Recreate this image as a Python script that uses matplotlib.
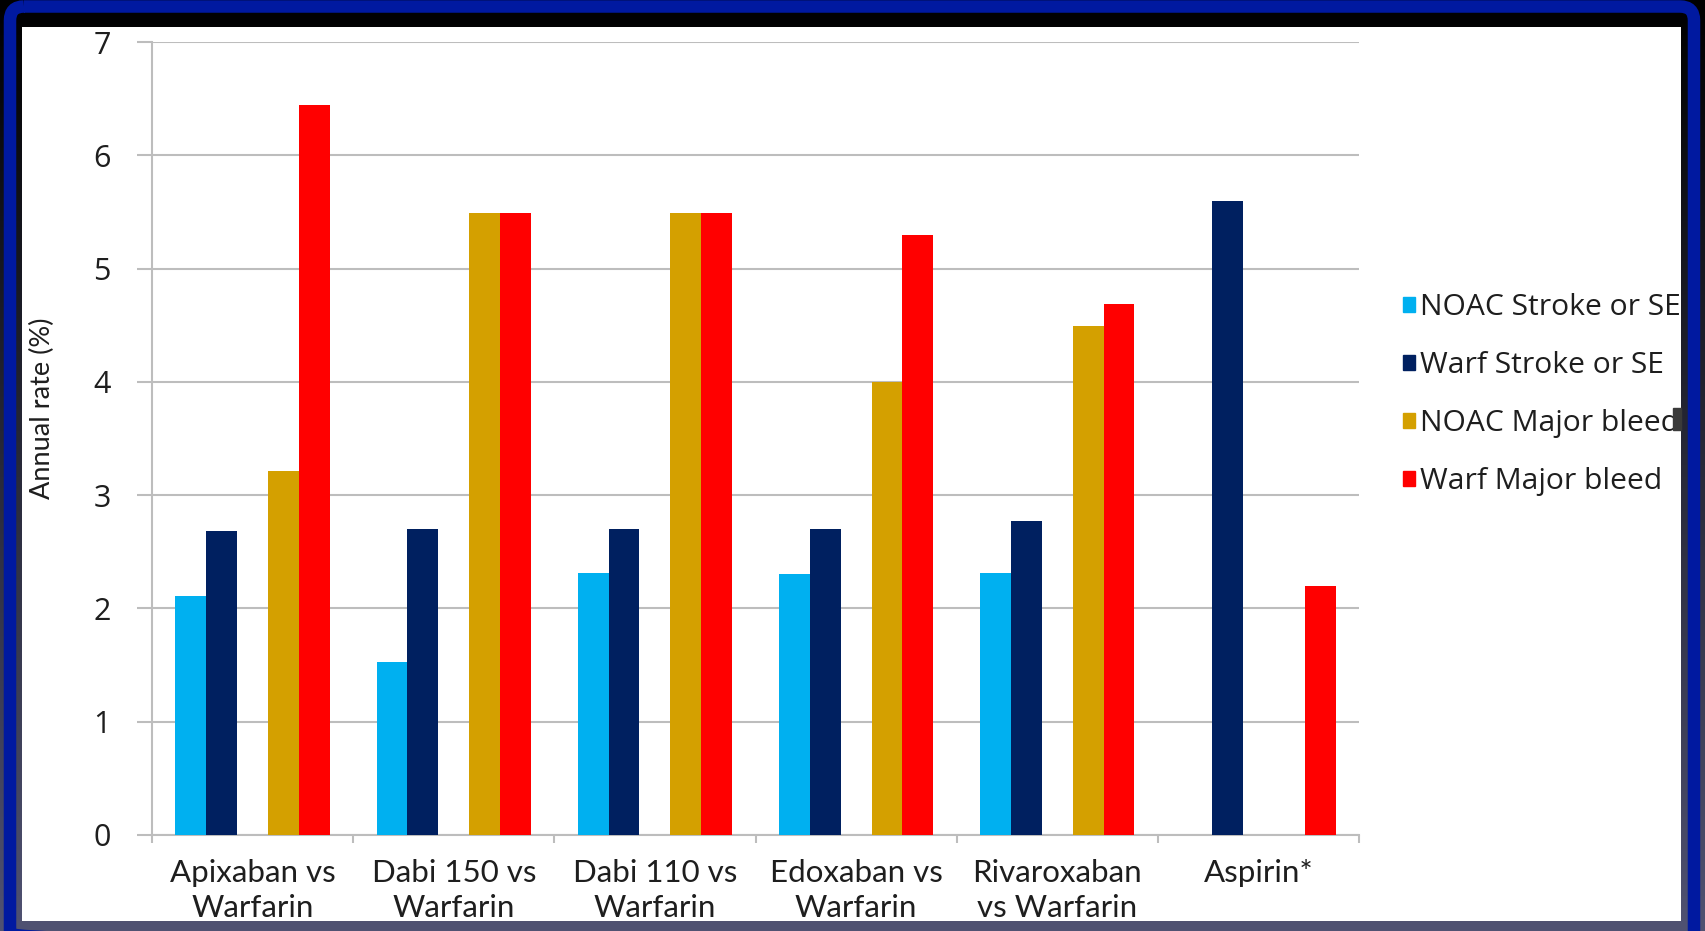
import numpy as np
import matplotlib
matplotlib.use("Agg")
import matplotlib.pyplot as plt
from matplotlib.patches import Patch, FancyBboxPatch, Rectangle

# ---- data ----
categories = ["Apixaban vs\nWarfarin", "Dabi 150 vs\nWarfarin", "Dabi 110 vs\nWarfarin",
              "Edoxaban vs\nWarfarin", "Rivaroxaban\nvs Warfarin", "Aspirin*"]
series_names = ["NOAC Stroke or SE", "Warf Stroke or SE", "NOAC Major bleed", "Warf Major bleed"]
noac_stroke = [2.11, 1.53, 2.31, 2.30, 2.31, np.nan]
warf_stroke = [2.68, 2.70, 2.70, 2.70, 2.77, 5.60]
noac_bleed = [3.21, 5.49, 5.49, 4.00, 4.49, np.nan]
warf_bleed = [6.44, 5.49, 5.49, 5.30, 4.69, 2.20]
y_ticks = [0, 1, 2, 3, 4, 5, 6, 7]

colors = ["#00B0F0", "#002060", "#D4A000", "#FF0000"]
slots = [-2, -1, 1, 2]          # bar slot per series (middle slot left empty)
bar_w = 0.1535

W, H = 1705, 931
fig = plt.figure(figsize=(W / 100, H / 100), dpi=100, facecolor="white")

grid_c = "#bdbdbd"
txt_c = "#1e1e1e"

ax = fig.add_axes([152 / W, 1 - 835 / H, (1359 - 152) / W, (835 - 42) / H])
x = np.arange(len(categories))
for vals, s, c, name in zip([noac_stroke, warf_stroke, noac_bleed, warf_bleed],
                            slots, colors, series_names):
    ax.bar(x + s * bar_w, vals, width=bar_w, color=c, label=name, zorder=3, linewidth=0)

ax.set_xlim(-0.5, len(categories) - 0.5)
ax.set_ylim(0, 7)
ax.set_yticks(y_ticks)
ax.yaxis.grid(True, color=grid_c, linewidth=1.5)
ax.set_axisbelow(True)
for side in ("top", "right"):
    ax.spines[side].set_visible(False)
for side in ("left", "bottom"):
    ax.spines[side].set_color(grid_c)
    ax.spines[side].set_linewidth(1.5)

ax.tick_params(axis="y", length=10.8, width=1.5, color=grid_c, pad=19,
               labelsize=22, labelcolor=txt_c)
for t in ax.get_yticklabels():
    t.set_fontfamily("Open Sans")

ax.set_xticks(x)
ax.set_xticklabels(categories, fontsize=22.5, color=txt_c, family="Lato", linespacing=1.30)
ax.set_xticks(np.arange(-0.5, len(categories), 1.0), minor=True)
ax.tick_params(axis="x", which="major", length=0, pad=17.5)
ax.tick_params(axis="x", which="minor", length=6, width=1.5, color=grid_c)

ax.set_ylabel("Annual rate (%)", fontsize=19.5, family="Lato", color=txt_c)
ax.yaxis.set_label_coords(55 / W, 1 - 408 / H, transform=fig.transFigure)

handles = [Patch(color=c) for c in colors]
ax.legend(handles, series_names, loc="upper left",
          bbox_to_anchor=(1403 / W, 1 - 293 / H), bbox_transform=fig.transFigure,
          frameon=False, prop={"family": "Open Sans", "size": 21.6},
          handlelength=0.4, handleheight=0.4, handletextpad=0.15,
          labelspacing=0.97, borderpad=0, borderaxespad=0, labelcolor=txt_c)

# ---- slide frame drawn over the chart ----
ov = fig.add_axes([0, 0, 1, 1], zorder=10)
ov.axis("off")
ov.patch.set_alpha(0)
rows = np.linspace(0, 1, H)[:, None]
top = np.array([0.0, 0.0, 0.0])
bot = np.array([0x50, 0x52, 0x72]) / 255
img = np.ones((H, W, 4))
img[..., :3] = (top + rows * (bot - top))[:, None, :]
img[27:921, 22:1681, 3] = 0
ov.imshow(img, extent=(0, W, H, 0), interpolation="nearest", aspect="auto")
ov.add_patch(FancyBboxPatch((10, 6.5), W - 21, H + 10,
                            boxstyle="round,pad=0,rounding_size=14",
                            fc="none", ec="#0019A0", lw=12.5 * 0.72))
ov.add_patch(Rectangle((1673, 408), 8, 22, color="#3a3a3a", zorder=5))
ov.set_xlim(0, W)
ov.set_ylim(H, 0)

fig.savefig("out.png", dpi=100, facecolor="white")
